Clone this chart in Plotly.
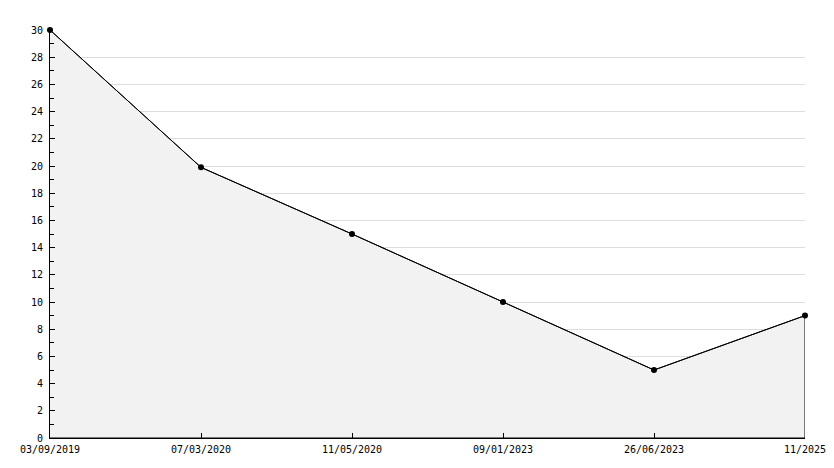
import plotly.graph_objects as go

dates = ["03/09/2019", "07/03/2020", "11/05/2020", "09/01/2023", "26/06/2023", "11/2025"]
values = [30, 19.9, 15, 10, 5, 9]

idx = list(range(len(dates)))

fig = go.Figure()

# filled area outlined like the original, closed down to zero
fig.add_trace(
    go.Scatter(
        x=idx + [idx[-1], idx[0]],
        y=values + [0, 0],
        mode="lines",
        fill="toself",
        fillcolor="#f2f2f2",
        line=dict(color="black", width=1),
        hoverinfo="skip",
        showlegend=False,
    )
)

fig.add_trace(
    go.Scatter(
        x=idx,
        y=values,
        mode="lines+markers",
        line=dict(color="black", width=1),
        marker=dict(color="black", size=6),
        cliponaxis=False,
        text=dates,
        hovertemplate="%{text}: %{y}<extra></extra>",
        showlegend=False,
    )
)

font = dict(family="DejaVu Sans Mono", size=10, color="black")

# page body adds an 8px offset, so the figure is trimmed by that much
fig.update_layout(
    width=826,
    height=460,
    margin=dict(l=42, r=29, t=22, b=30),
    paper_bgcolor="white",
    plot_bgcolor="white",
    font=font,
)

fig.update_xaxes(
    range=[0, len(dates) - 1],
    tickvals=idx,
    ticktext=dates,
    ticks="inside",
    ticklen=5,
    tickcolor="black",
    showgrid=False,
    zeroline=False,
    showline=True,
    linecolor="black",
    linewidth=1,
    automargin=False,
    ticklabelstandoff=2,
)

fig.update_yaxes(
    range=[0, 30],
    dtick=2,
    ticks="inside",
    ticklen=5,
    tickcolor="black",
    showgrid=True,
    gridcolor="#dddddd",
    gridwidth=1,
    zeroline=False,
    showline=True,
    linecolor="black",
    linewidth=1,
    minor=dict(dtick=1, ticks="inside", ticklen=4, tickcolor="black", showgrid=False),
    ticklabelstandoff=4,
    automargin=False,
)

fig.write_html("out.html")
